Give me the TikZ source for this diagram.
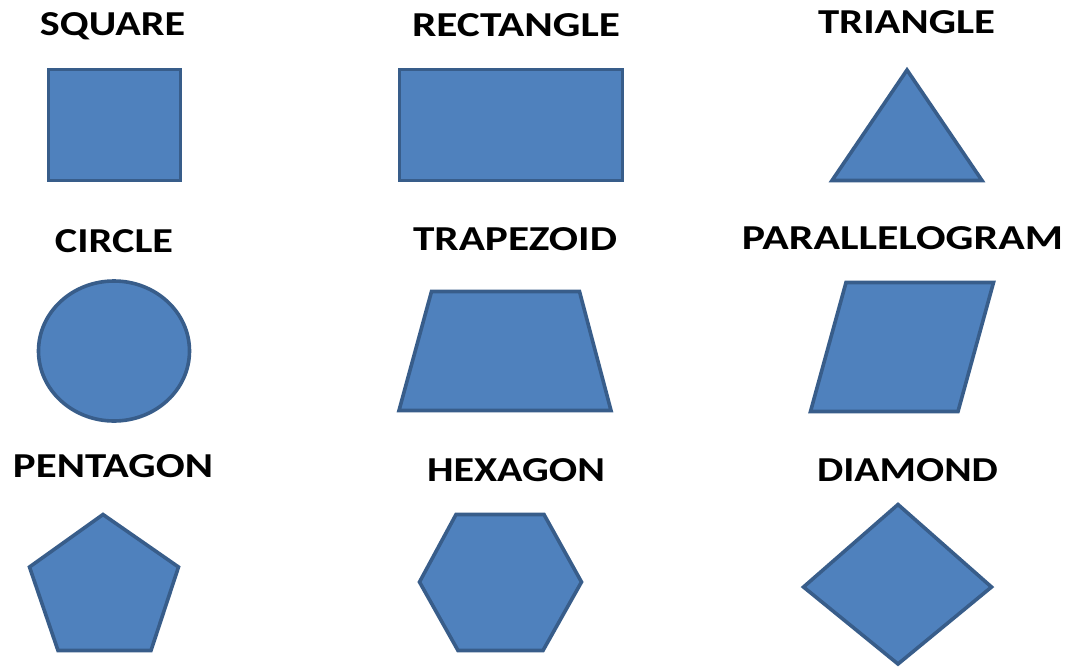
\documentclass[tikz,border=0pt]{standalone}
\usepackage{fontspec}
\setmainfont{Carlito}
\usepackage{graphicx}
\definecolor{shapefill}{HTML}{4F81BD}
\definecolor{shapeline}{HTML}{385D8A}
\newcommand\lbl[2]{\resizebox{#1pt}{\height}{#2}}
\begin{document}
\begin{tikzpicture}[x=1pt,y=-1pt,
  shapestyle/.style={fill=shapefill,draw=shapeline,line width=3.6pt,line join=miter},
  lab/.style={anchor=base,inner sep=0pt,font=\fontsize{35}{40}\selectfont\bfseries,text=black}]
\useasboundingbox[fill=white] (0,0) rectangle (1071,667);
% labels
\node[lab] (lsquare) at (112.5,35) {\lbl{145}{SQUARE}};
\node[lab] (lrect) at (516,36) {\lbl{208}{RECTANGLE}};
\node[lab] (ltri) at (906.5,33) {\lbl{177}{TRIANGLE}};
\node[lab] (lcircle) at (114,252) {\lbl{118}{CIRCLE}};
\node[lab] (ltrap) at (515,250) {\lbl{204}{TRAPEZOID}};
\node[lab] (lpara) at (902.5,249) {\lbl{321}{PARALLELOGRAM}};
\node[lab] (lpent) at (113,477) {\lbl{200}{PENTAGON}};
\node[lab] (lhex) at (516,481) {\lbl{178}{HEXAGON}};
\node[lab] (ldiam) at (907.5,481) {\lbl{181}{DIAMOND}};
% shapes
\draw[shapestyle] (48.5,69.5) rectangle (180.5,180.5);
\draw[shapestyle] (399.5,69.5) rectangle (622.5,180.5);
\draw[shapestyle] (907,70) -- (982,180.5) -- (832,180.5) -- cycle;
\draw[shapestyle] (114,351) ellipse [x radius=75.5, y radius=70];
\draw[shapestyle] (431.5,291.5) -- (579.5,291.5) -- (611,410.5) -- (399,410.5) -- cycle;
\draw[shapestyle] (846,282.5) -- (993.5,282.5) -- (958,411.5) -- (810.5,411.5) -- cycle;
\draw[shapestyle] (103,514.5) -- (178.5,567) -- (151,650.5) -- (58,650.5) -- (29.5,567) -- cycle;
\draw[shapestyle] (456,514.5) -- (544,514.5) -- (581.5,582) -- (543,650.5) -- (458,650.5) -- (419.5,582) -- cycle;
\draw[shapestyle] (898,504.5) -- (991.5,587) -- (898,664) -- (803.5,587) -- cycle;
\end{tikzpicture}
\end{document}
